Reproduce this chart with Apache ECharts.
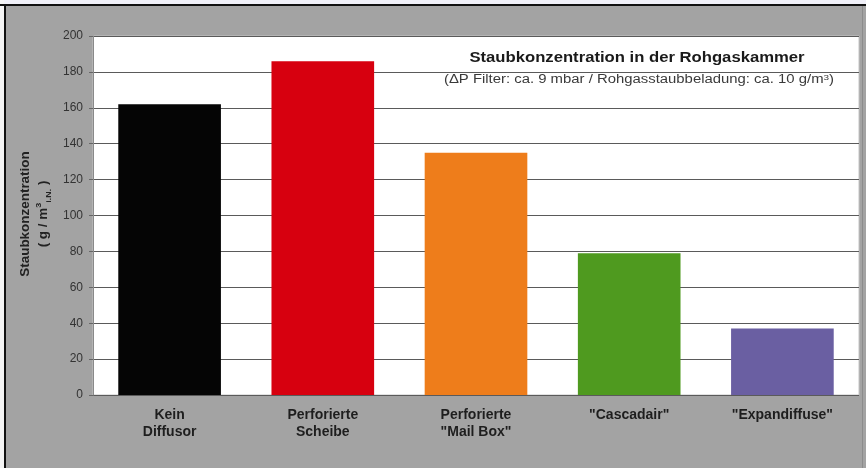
<!DOCTYPE html>
<html>
<head>
<meta charset="utf-8">
<script src="https://cdn.jsdelivr.net/npm/echarts@6/dist/echarts.min.js"></script>
<style>html,body{margin:0;padding:0;}#c{width:866px;height:468px;}</style>
</head>
<body>
<div id="c"></div>
<script>
var categories = ['Kein\nDiffusor', 'Perforierte\nScheibe', 'Perforierte\n"Mail Box"', '"Cascadair"', '"Expandiffuse"'];
var values = [162, 186, 135, 79, 37];
var barColors = ['#050505', '#d7000f', '#ee7d1b', '#4f9a1f', '#6a5fa2'];
var yTicks = [0, 20, 40, 60, 80, 100, 120, 140, 160, 180, 200];
var titleText = 'Staubkonzentration in der Rohgaskammer';
var subtitleText = '(\u0394P Filter: ca. 9 mbar / Rohgasstaubbeladung: ca. 10 g/m{s|3})';
var yName = 'Staubkonzentration\n( g / m{s|3}{b|i.N.} )';

var FONT = 'Liberation Sans, Arial, sans-serif';
var chart = echarts.init(document.getElementById('c'), null, {renderer: 'canvas'});
chart.setOption({
  backgroundColor: '#a3a3a3',
  animation: false,
  textStyle: {fontFamily: FONT},
  graphic: [
    {type: 'rect', shape: {x: 0, y: 0, width: 866, height: 4}, style: {fill: '#f0f0f8'}, z: 10},
    {type: 'rect', shape: {x: 0, y: 0, width: 4, height: 468}, style: {fill: '#f4f4f4'}, z: 10},
    {type: 'rect', shape: {x: 0, y: 4, width: 866, height: 2}, style: {fill: '#111'}, z: 11},
    {type: 'rect', shape: {x: 4, y: 4, width: 2, height: 464}, style: {fill: '#111'}, z: 11},
    {type: 'rect', shape: {x: 862, y: 6, width: 1, height: 462}, style: {fill: '#8c8c8c'}, z: 11},
    {type: 'text', x: 637, y: 58, scaleX: 1.19, z: 20,
      style: {text: titleText, align: 'center', verticalAlign: 'middle',
        font: 'bold 14px ' + FONT, fill: '#1a1a1a'}},
    {type: 'text', x: 639, y: 80, scaleX: 1.24, z: 20,
      style: {text: subtitleText, align: 'center', verticalAlign: 'middle',
        font: '12px ' + FONT, fill: '#3a3a3a',
        rich: {s: {font: '8px ' + FONT, verticalAlign: 'top', fill: '#3a3a3a'}}}},
    {type: 'text', rotation: Math.PI / 2, x: 35, y: 214, scaleX: 1.12, z: 20,
      style: {text: yName, align: 'center', verticalAlign: 'middle',
        font: 'bold 12px ' + FONT, fill: '#222', lineHeight: 18,
        rich: {s: {font: 'bold 8px ' + FONT, verticalAlign: 'top', fill: '#222'},
               b: {font: 'bold 8px ' + FONT, verticalAlign: 'bottom', fill: '#222'}}}}
  ],
  grid: {left: 93, right: 7, top: 36, bottom: 73, show: true, backgroundColor: '#ffffff', borderColor: '#c4c4c4', borderWidth: 1},
  xAxis: {
    type: 'category', data: categories,
    axisLine: {show: false}, axisTick: {show: false},
    axisLabel: {fontSize: 14, fontWeight: 'bold', color: '#1e1e1e', lineHeight: 17, margin: 12}
  },
  yAxis: {
    type: 'value', min: 0, max: 200, interval: 20,
    axisLine: {show: true, lineStyle: {color: '#8a8a8a'}},
    axisTick: {show: true, length: 4, lineStyle: {color: '#666'}},
    axisLabel: {fontSize: 12, color: '#333', margin: 10, formatter: function (v) { return yTicks.indexOf(v) >= 0 ? String(v) : ''; }},
    splitLine: {show: true, lineStyle: {color: '#5a5a5a', width: 1}}
  },
  series: [{
    type: 'bar', barCategoryGap: '33%',
    data: values.map(function (v, i) { return {value: v, itemStyle: {color: barColors[i]}}; })
  }]
});
</script>
</body>
</html>
